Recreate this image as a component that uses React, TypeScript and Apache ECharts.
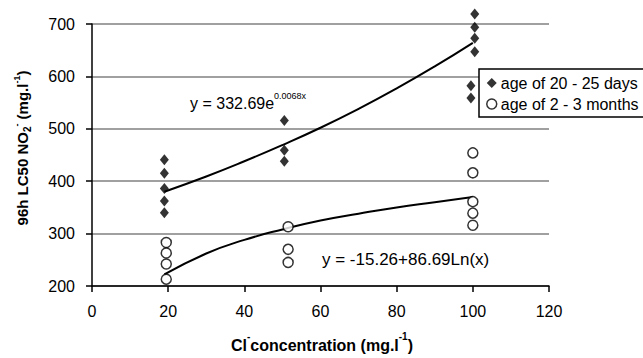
import React, { useEffect, useRef } from 'react';
import * as echarts from 'echarts';

const xTicks = [0, 20, 40, 60, 80, 100, 120];
const yTicks = [200, 300, 400, 500, 600, 700];

const youngName = 'age of 20 - 25 days';
const olderName = 'age of 2 - 3 months';

const youngX = [19, 19, 19, 19, 19, 50.5, 50.5, 50.5, 100.5, 100.5, 100.5, 100.5, 99.5, 99.5];
const youngY = [441, 415, 386, 362, 340, 516, 459, 438, 719, 694, 673, 647, 582, 559];
const olderX = [19.5, 19.5, 19.5, 19.5, 51.5, 51.5, 51.5, 100, 100, 100, 100, 100];
const olderY = [283, 263, 242, 213, 313, 270, 245, 454, 416, 361, 339, 316];

const expFitX = [19, 30, 40, 50, 60, 70, 80, 90, 100];
const expFitY = [380, 409, 438, 469, 502, 538, 577, 619, 664];
const logFitX = [19, 30, 40, 50, 60, 70, 80, 90, 100];
const logFitY = [222, 262, 288, 308, 325, 338, 350, 360, 370];

const expEquation = ['y = 332.69e', '0.0068x'];
const logEquation = 'y = -15.26+86.69Ln(x)';

const FONT = '"Liberation Sans", Arial, Helvetica, sans-serif';

const zip = (xs: number[], ys: number[]) => xs.map((x, i) => [x, ys[i]]);

export default function App() {
  const ref = useRef<HTMLDivElement>(null);
  useEffect(() => {
    if (!ref.current) return;
    const chart = echarts.init(ref.current, undefined, { renderer: 'svg' });
    const option: any = {
      animation: false,
      backgroundColor: '#fff',
      textStyle: { fontFamily: FONT },
      grid: { left: 92, top: 24, right: 94, bottom: 72, containLabel: false },
      xAxis: {
        type: 'value',
        min: xTicks[0],
        max: xTicks[xTicks.length - 1],
        interval: 20,
        axisLine: { show: true, lineStyle: { color: '#000', width: 1.5 } },
        axisTick: { show: true, inside: false, length: 6, lineStyle: { color: '#000', width: 1.5 } },
        axisLabel: { fontSize: 16, color: '#000', fontFamily: FONT, margin: 17 },
        splitLine: { show: false },
      },
      yAxis: {
        type: 'value',
        min: yTicks[0],
        max: yTicks[yTicks.length - 1],
        interval: 100,
        axisLine: { show: true, lineStyle: { color: '#000', width: 1.5 } },
        axisTick: { show: true, inside: false, length: 6, lineStyle: { color: '#000', width: 1.5 } },
        axisLabel: { fontSize: 16, color: '#000', fontFamily: FONT, margin: 17 },
        splitLine: { show: true, lineStyle: { color: '#808080', width: 1.5 } },
      },
      legend: {
        show: true,
        orient: 'vertical',
        left: 479,
        top: 69,
        padding: [6, 10, 5, 7],
        itemGap: 5,
        itemWidth: 10,
        itemHeight: 10,
        backgroundColor: '#fff',
        borderColor: '#000',
        borderWidth: 1.5,
        borderRadius: 0,
        textStyle: { fontSize: 16, color: '#000', fontFamily: FONT, padding: [0, 0, 0, -1] },
        data: [
          { name: youngName, icon: 'diamond', itemStyle: { color: '#000' } },
          {
            name: olderName,
            icon: 'circle',
            itemStyle: { color: '#fff', borderColor: '#000', borderWidth: 1.5 },
          },
        ],
      },
      series: [
        {
          name: 'expFit',
          type: 'line',
          data: zip(expFitX, expFitY),
          smooth: true,
          showSymbol: false,
          symbol: 'none',
          lineStyle: { color: '#000', width: 2 },
          z: 3,
        },
        {
          name: 'logFit',
          type: 'line',
          data: zip(logFitX, logFitY),
          smooth: true,
          showSymbol: false,
          symbol: 'none',
          lineStyle: { color: '#000', width: 2 },
          z: 3,
        },
        {
          name: youngName,
          type: 'scatter',
          data: zip(youngX, youngY),
          symbol: 'diamond',
          symbolSize: [9, 11],
          clip: false,
          itemStyle: { color: '#000' },
          z: 4,
        },
        {
          name: olderName,
          type: 'scatter',
          data: zip(olderX, olderY),
          symbol: 'circle',
          symbolSize: 10,
          clip: false,
          itemStyle: { color: '#fff', borderColor: '#000', borderWidth: 1.5 },
          z: 4,
        },
      ],
      graphic: [
        {
          type: 'text',
          x: 190,
          y: 101,
          style: {
            text: `{a|${expEquation[0]}}{s|${expEquation[1]}}`,
            verticalAlign: 'middle',
            align: 'left',
            rich: {
              a: { fontSize: 16, fontFamily: FONT, fill: '#000', lineHeight: 20, verticalAlign: 'bottom' },
              s: { fontSize: 9, fontFamily: FONT, fill: '#000', lineHeight: 10, verticalAlign: 'top' },
            },
          },
          z: 10,
        },
        {
          type: 'text',
          x: 322,
          y: 259,
          style: {
            text: logEquation,
            font: `17px ${FONT}`,
            fill: '#000',
            verticalAlign: 'middle',
            align: 'left',
          },
          z: 10,
        },
        {
          type: 'text',
          x: 322,
          y: 342,
          style: {
            text: '{b|Cl}{s|-}{b|concentration (mg.l}{s|-1}{b|)}',
            align: 'center',
            verticalAlign: 'middle',
            rich: {
              b: { fontSize: 16, fontWeight: 'bold', fontFamily: FONT, fill: '#000', lineHeight: 22, verticalAlign: 'bottom' },
              s: { fontSize: 10, fontWeight: 'bold', fontFamily: FONT, fill: '#000', lineHeight: 12, verticalAlign: 'top' },
            },
          },
        },
        {
          type: 'text',
          x: 22,
          y: 148,
          rotation: Math.PI / 2,
          style: {
            text: '{b|96h LC50 NO}{d|2}{s|-}{b| (mg.l}{s|-1}{b|)}',
            align: 'center',
            verticalAlign: 'middle',
            rich: {
              b: { fontSize: 15, fontWeight: 'bold', fontFamily: FONT, fill: '#000', lineHeight: 20, verticalAlign: 'middle' },
              s: { fontSize: 9, fontWeight: 'bold', fontFamily: FONT, fill: '#000', lineHeight: 11, verticalAlign: 'top' },
              d: { fontSize: 10, fontWeight: 'bold', fontFamily: FONT, fill: '#000', lineHeight: 11, verticalAlign: 'bottom' },
            },
          },
        },
      ],
    };
    chart.setOption(option);
    return () => chart.dispose();
  }, []);
  return (
    <div
      ref={ref}
      style={{ position: 'fixed', left: 0, top: 0, width: 643, height: 358, background: '#fff' }}
    />
  );
}
